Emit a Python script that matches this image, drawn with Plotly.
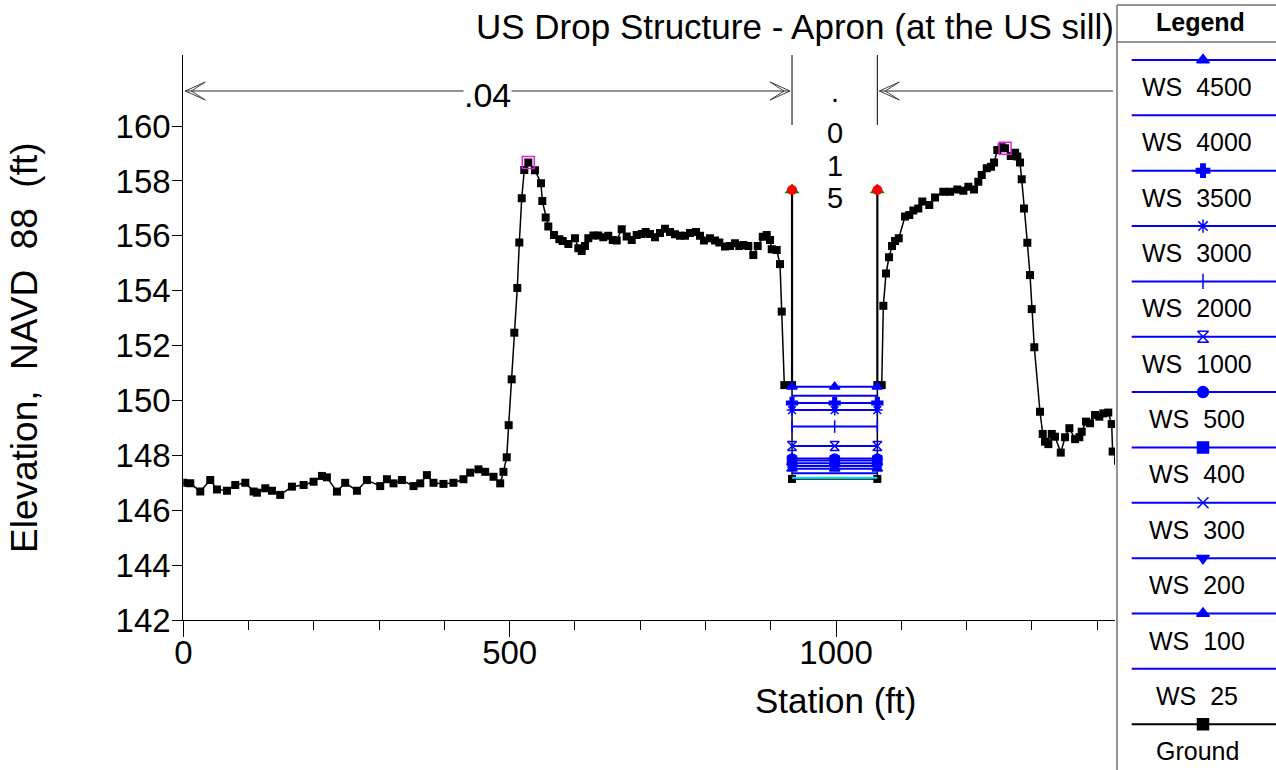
import plotly.graph_objects as go

W, H = 1276, 770

# ---------------- data ----------------
ground_sta = [
    0, 10.7, 26, 41.3, 51.6, 66.9, 79.6, 95, 107.7, 112.8, 125.6, 135.8, 148.5,
    166.4, 184.3, 199.6, 212.4, 220, 235.4, 248, 266, 281.3, 301.7, 312, 322,
    335, 352.7, 363, 373.2, 383.3, 398.6, 413.9, 429.2, 439.5, 452.2, 462.5,
    475.2, 485.5, 490.5, 495.5, 498.5, 503.1, 507.1, 511.7, 514.8, 518.5,
    522.4, 528.6, 538.8, 548.0, 550.0, 555.2, 559.2, 567.9, 576.1, 581.3,
    589.9, 600.1, 605.2, 610.4, 615.4, 620.5, 628.2, 635.8, 643.5, 651.1,
    657.9, 664.0, 671.7, 679.3, 687.0, 694.6, 702.3, 708.4, 715.0, 722.7,
    730.3, 738.0, 745.7, 753.3, 761.0, 768.6, 776.3, 785.5, 791.6, 797.7,
    806.9, 814.6, 821.2, 829.9, 837.6, 845.2, 851.8, 858.0, 865.6, 873.3,
    880.0, 887.7, 893.8, 898.9, 901.5, 909.1, 914.2, 916.8, 920.8,
    932.6, 932.6, 1063.3, 1063.3,
    1070.0, 1072.5, 1076.6, 1081.2, 1085.8, 1090.4, 1096.1, 1105.7, 1112.3,
    1118.4, 1126.1, 1132.2, 1142.9, 1151.7, 1164.4, 1174.7, 1185.9, 1195.1,
    1202.7, 1211.4, 1218.0, 1223.2, 1230.9, 1237.5, 1242.1, 1247.1, 1253.9,
    1258.9, 1267.7, 1274.3, 1277.8, 1281.9, 1284.5, 1288.0, 1293.1, 1297.2,
    1299.8, 1303.8, 1312.5, 1316.7, 1320.2, 1325.3, 1330.5, 1335.5, 1344.3,
    1350.9, 1357.5, 1366.2, 1372.8, 1376.4, 1383.0, 1389.2, 1396.8, 1403.4,
    1409.5, 1417.1, 1422.3, 1423.8, 1432.0,
]
ground_elev = [
    147.00, 146.98, 146.68, 147.10, 146.76, 146.71, 146.92, 147.00, 146.68,
    146.64, 146.80, 146.71, 146.56, 146.86, 146.92, 147.04, 147.25, 147.20,
    146.68, 147.00, 146.71, 147.10, 146.88, 147.13, 146.98, 147.10, 146.88,
    146.98, 147.28, 147.00, 146.96, 147.00, 147.13, 147.37, 147.49, 147.40,
    147.22, 146.98, 147.40, 147.93, 149.10, 150.77, 152.47, 154.10, 155.76,
    157.37, 158.40, 158.67, 158.39, 157.92, 157.27, 156.67, 156.34, 156.03,
    155.88, 155.81, 155.70, 155.91, 155.55, 155.45, 155.63, 155.91, 156.01,
    156.01, 155.95, 156.00, 155.85, 155.83, 156.24, 155.98, 155.85, 156.03,
    156.07, 156.14, 156.07, 155.95, 156.10, 156.26, 156.14, 156.06, 156.00,
    156.00, 156.10, 156.14, 156.00, 155.83, 155.91, 155.83, 155.76, 155.61,
    155.63, 155.73, 155.63, 155.67, 155.63, 155.30, 155.63, 155.97, 156.03,
    155.85, 155.51, 155.48, 154.97, 153.24, 150.56,
    150.56, 147.14, 147.14, 150.56,
    150.56, 153.45, 154.63, 155.22, 155.63, 155.81, 155.91, 156.70, 156.76,
    156.92, 157.00, 157.25, 157.12, 157.40, 157.61, 157.61, 157.69, 157.64,
    157.79, 157.69, 157.97, 158.22, 158.46, 158.52, 158.67, 159.13, 159.23,
    159.19, 158.91, 159.03, 158.89, 158.67, 158.06, 157.00, 155.75, 154.57,
    153.33, 151.94, 149.59, 148.78, 148.50, 148.41, 148.78, 148.68, 148.10,
    148.66, 148.99, 148.59, 148.66, 148.86, 149.23, 149.17, 149.47, 149.41,
    149.53, 149.56, 149.14, 148.14, 147.80,
]

# highest ground points on each overbank
peak_sta = [528.6, 1258.9]
peak_elev = [158.67, 159.19]

# bank stations, ground at bank top and levee crest
bank_sta = [932.6, 1063.3]
bank_top_elev = [150.56, 150.56]
levee_elev = [157.67, 157.67]

# channel bottom line
bed_elev = 147.18

# water surface profiles
ws_names = ["WS 4500", "WS 4000", "WS 3500", "WS 3000", "WS 2000", "WS 1000",
            "WS 500", "WS 400", "WS 300", "WS 200", "WS 100", "WS 25"]
ws_elev = [150.50, 150.17, 149.91, 149.65, 149.05, 148.34,
           147.89, 147.81, 147.71, 147.61, 147.51, 147.35]
ws_symbols = ["triangle-up", None, "cross", "asterisk-open", "line-ns-open",
              "hourglass-open", "circle", "square", "x-thin-open",
              "triangle-down", "triangle-up", None]

# Manning's n regions
n_sta = [0, 932.6, 1063.3]
n_val = [".04", ".015", ".04"]

title_text = "US Drop Structure - Apron (at the US sill)"
x_title = "Station (ft)"
y_title = "Elevation,  NAVD  88  (ft)"
x_tick_step = 500
y_ticks = list(range(142, 161, 2))

# ---------------- layout geometry (pixels) ----------------
PL, PR, PT, PB = 183.3, 1115.0, 55.0, 620.0
LEG_L = 1117.0
x_range = [0, 1427.4]
y_range = [142, 162.59]
sx = (x_range[1] - x_range[0]) / (PR - PL)   # ft per pixel, horizontal
sy = (y_range[1] - y_range[0]) / (PB - PT)   # ft per pixel, vertical

FONT = "Liberation Sans, Arial, sans-serif"
BLUE = "#0000FF"


def fx(px):
    return px / W


def fy(py):
    return 1 - py / H


def elev_at(py):
    return y_range[0] + (PB - py) * sy


def label(x, y, text, size, **kw):
    d = dict(x=fx(x), y=fy(y), xref="paper", yref="paper", text=text,
             showarrow=False, xanchor="center", yanchor="middle",
             font=dict(family=FONT, size=size, color="black"))
    d.update(kw)
    return d


fig = go.Figure()

# ground
fig.add_trace(go.Scatter(
    x=ground_sta, y=ground_elev, mode="lines+markers",
    line=dict(color="black", width=1.5),
    marker=dict(symbol="square", size=8, color="black"),
    showlegend=False, hoverinfo="skip"))

fig.add_trace(go.Scatter(
    x=peak_sta, y=peak_elev, mode="markers",
    marker=dict(symbol="square-open", size=12, color="#E020E0",
                line=dict(width=1.5, color="#E020E0")),
    showlegend=False, hoverinfo="skip"))

# levee walls
lx, ly = [], []
for s, b, t in zip(bank_sta, bank_top_elev, levee_elev):
    lx += [s, s, None]
    ly += [b, t, None]
fig.add_trace(go.Scatter(x=lx, y=ly, mode="lines",
                         line=dict(color="black", width=2.2),
                         showlegend=False, hoverinfo="skip"))

# channel bottom line
fig.add_trace(go.Scatter(x=[bank_sta[0], bank_sta[1]], y=[bed_elev, bed_elev],
                         mode="lines", line=dict(color="#00E5FF", width=2),
                         showlegend=False, hoverinfo="skip"))

# water surfaces across the channel
mid_sta = (bank_sta[0] + bank_sta[1]) / 2
for name, e, sym in zip(ws_names, ws_elev, ws_symbols):
    kw = dict(mode="lines")
    if sym:
        kw = dict(mode="lines+markers",
                  marker=dict(symbol=sym, size=9, color=BLUE,
                              line=dict(color=BLUE, width=1.5)))
    fig.add_trace(go.Scatter(x=[bank_sta[0], mid_sta, bank_sta[1]], y=[e, e, e],
                             line=dict(color=BLUE, width=2), name=name,
                             showlegend=False, hoverinfo="skip", **kw))

# levee crest markers
fig.add_trace(go.Scatter(x=bank_sta, y=levee_elev, mode="markers",
                         marker=dict(symbol="triangle-up", size=13, color="#008000"),
                         showlegend=False, hoverinfo="skip"))
fig.add_trace(go.Scatter(x=bank_sta, y=levee_elev, mode="markers",
                         marker=dict(symbol="circle", size=10, color="#FF0000"),
                         showlegend=False, hoverinfo="skip"))

# ---------------- Manning's n bar ----------------
shapes = []
annotations = []
arrow_py = 91.0
arrow_y = elev_at(arrow_py)
sep_bottom = elev_at(125.0)
n_edges = n_sta + [x_range[1]]
gap = 2 * sx


def chevron(x0, y0, direction):
    # direction -1: tip on the left, +1: tip on the right
    xb = x0 - direction * 20 * sx
    xm = x0 - direction * 6 * sx
    h = 9 * sy
    return (f"M {x0},{y0} L {xb},{y0 + h} L {xm},{y0} L {xb},{y0 - h} Z")


for i, val in enumerate(n_val):
    a, b = n_edges[i], n_edges[i + 1]
    if i > 0:
        shapes.append(dict(type="line", xref="x", yref="y", x0=a, x1=a,
                           y0=y_range[1], y1=sep_bottom,
                           line=dict(color="black", width=1)))
    width_px = (b - a) / sx
    if width_px > 150:
        shapes.append(dict(type="line", xref="x", yref="y", x0=a + gap, x1=b - gap,
                           y0=arrow_y, y1=arrow_y,
                           line=dict(color="#6E6E6E", width=1.5)))
        shapes.append(dict(type="path", xref="x", yref="y",
                           path=chevron(a + gap, arrow_y, -1),
                           line=dict(color="#404040", width=1)))
        if b < x_range[1]:
            shapes.append(dict(type="path", xref="x", yref="y",
                               path=chevron(b - gap, arrow_y, 1),
                               line=dict(color="#404040", width=1)))
            annotations.append(dict(x=(a + b) / 2, y=elev_at(95), xref="x", yref="y",
                                    text=val, showarrow=False, bgcolor="white",
                                    xanchor="center", yanchor="middle",
                                    font=dict(family=FONT, size=34, color="black"),
                                    borderpad=0))
    else:
        # narrow region: value written one character per line
        for k, ch in enumerate(val):
            py = 100.5 + 32.6 * k - (8 if ch == "." else 0)
            annotations.append(dict(x=(a + b) / 2, y=elev_at(py),
                                    xref="x", yref="y", text=ch, showarrow=False,
                                    xanchor="center", yanchor="middle",
                                    font=dict(family=FONT, size=29, color="black")))

# ---------------- title (clipped by legend panel) ----------------
fig.add_trace(go.Scatter(x=[476], y=[30], xaxis="x2", yaxis="y2", mode="text",
                         text=[title_text], textposition="middle right",
                         textfont=dict(family=FONT, size=35, color="black"),
                         cliponaxis=True, showlegend=False, hoverinfo="skip"))

# axis titles
annotations.append(label(835, 700, x_title, 35))
annotations.append(label(25, 348, y_title, 37, textangle=-90))

# ---------------- legend panel ----------------
leg_names = ws_names + ["Ground"]
leg_symbols = ws_symbols + ["square"]
leg_colors = [BLUE] * len(ws_names) + ["black"]
row0, row_step = 60.0, 55.35
leg_line_l, leg_mid = 1131.7, 1203.0
for i, (nm, sym, col) in enumerate(zip(leg_names, leg_symbols, leg_colors)):
    yy = row0 + row_step * i
    fig.add_trace(go.Scatter(x=[leg_line_l, W + 10], y=[yy, yy], xaxis="x3", yaxis="y3",
                             mode="lines", line=dict(color=col, width=2),
                             showlegend=False, hoverinfo="skip"))
    if sym:
        fig.add_trace(go.Scatter(x=[leg_mid], y=[yy], xaxis="x3", yaxis="y3",
                                 mode="markers",
                                 marker=dict(symbol=sym, size=11, color=col,
                                             line=dict(color=col, width=1.5)),
                                 showlegend=False, hoverinfo="skip"))
    annotations.append(label(1197, yy + 27, nm.replace(" ", "\u00a0\u00a0"), 25))

annotations.append(label(1200, 22, "<b>Legend</b>", 25))

for x0, y0, x1, y1 in [(LEG_L, 5, LEG_L, H), (LEG_L, 5, W, 5), (LEG_L, 42, W, 42)]:
    shapes.append(dict(type="line", xref="paper", yref="paper",
                       x0=fx(x0), y0=fy(y0), x1=fx(x1), y1=fy(y1),
                       line=dict(color="#707070", width=1.5)))

fig.update_layout(
    width=W, height=H, autosize=False,
    margin=dict(l=0, r=0, t=0, b=0, autoexpand=False),
    paper_bgcolor="white", plot_bgcolor="rgba(0,0,0,0)",
    showlegend=False,
    xaxis=dict(domain=[fx(PL), fx(PR)], range=x_range, tickmode="linear",
               tick0=0, dtick=x_tick_step, ticks="outside", ticklen=16, tickwidth=1,
               tickcolor="black", showline=True, linecolor="black", linewidth=1.2,
               showgrid=False, zeroline=False, anchor="y", automargin=False,
               ticklabelstandoff=-13,
               tickfont=dict(family=FONT, size=33, color="black"),
               minor=dict(dtick=x_tick_step / 5, tick0=0, ticks="outside",
                          ticklen=9, tickcolor="black", tickwidth=1,
                          showgrid=False)),
    yaxis=dict(domain=[fy(PB), fy(PT)], range=y_range, tickmode="array",
               tickvals=y_ticks, ticks="outside", ticklen=10, tickwidth=1,
               tickcolor="black", showline=True, linecolor="black", linewidth=1.2,
               showgrid=False, zeroline=False, anchor="x", automargin=False,
               ticklabelstandoff=-5,
               tickfont=dict(family=FONT, size=33, color="black")),
    xaxis2=dict(domain=[0, fx(LEG_L)], range=[0, LEG_L], visible=False,
                anchor="y2", automargin=False),
    yaxis2=dict(domain=[0, 1], range=[H, 0], visible=False, anchor="x2",
                automargin=False),
    xaxis3=dict(domain=[fx(LEG_L), 1], range=[LEG_L, W], visible=False,
                anchor="y3", automargin=False),
    yaxis3=dict(domain=[0, 1], range=[H, 0], visible=False, anchor="x3",
                automargin=False),
    shapes=shapes,
    annotations=annotations,
)
fig.write_html("out.html")
